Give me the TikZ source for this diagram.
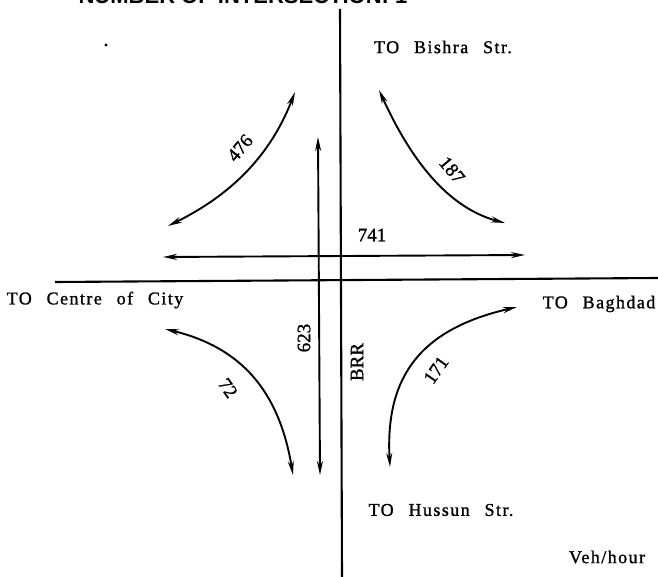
\documentclass[tikz,border=0pt]{standalone}
\usepackage{fontspec}
\setmainfont[FakeBold=1.2]{Liberation Serif}
\newfontfamily\titlefont{Liberation Sans}
\newfontfamily\spacedfont[LetterSpace=8,WordSpace=2.5,FakeBold=1.2]{Liberation Serif}
\usetikzlibrary{arrows.meta}

\begin{document}
\begin{tikzpicture}[x=1pt,y=-1pt,
  road/.style={line width=2.1pt},
  flow/.style={line width=1.9pt,{Stealth[length=14pt,width=6pt]}-{Stealth[length=14pt,width=6pt]}},
  place/.style={font=\spacedfont\fontsize{18}{20}\selectfont, inner sep=0pt},
  volume/.style={font=\fontsize{19}{21}\selectfont, inner sep=0pt}]
\useasboundingbox (0,0) rectangle (658,577);
\clip (0,0) rectangle (658,577);

\node[font=\titlefont\bfseries\fontsize{22}{24}\selectfont, anchor=base] (title) at (243,4)
{NUMBER OF INTERSECTION: 1};

\coordinate (n) at (340,9);
\coordinate (s) at (342,577);
\coordinate (w) at (55,282);
\coordinate (e) at (658,278);
\draw[road] (n) -- (s);
\draw[road] (w) -- (e);

\coordinate (ew-w) at (163,257);
\coordinate (ew-e) at (525,255);
\coordinate (ns-n) at (318,137);
\coordinate (ns-s) at (320,475);
\coordinate (nw-w) at (168,226);
\coordinate (nw-n) at (295,92);
\coordinate (ne-n) at (379,90);
\coordinate (ne-e) at (505,223);
\coordinate (sw-w) at (165,329);
\coordinate (sw-s) at (293,475);
\coordinate (se-s) at (390,467);
\coordinate (se-e) at (517,307);

\draw[flow] (ew-w) -- (ew-e);
\draw[flow] (ns-n) -- (ns-s);
\draw[flow] (nw-w) .. controls (233,194) and (271,154) .. (nw-n);
\draw[flow] (ne-n) .. controls (415,169) and (453,209) .. (ne-e);
\draw[flow] (sw-w) .. controls (240,347) and (279,390) .. (sw-s);
\draw[flow] (se-s) .. controls (385,376) and (421,329) .. (se-e);

\node[volume] (v741) at (372,235) {741};
\node[volume, rotate=90] (v623) at (304,338) {623};
\node[volume, rotate=90] (brr) at (357,362) {BRR};
\node[volume, rotate=50] (v476) at (240,148) {476};
\node[volume, rotate=-50] (v187) at (452,170) {187};
\node[volume, rotate=-55] (v72) at (228,388) {72};
\node[volume, rotate=55] (v171) at (436,370) {171};

\node[place] (bishra) at (443,47) {TO Bishra Str.};
\node[place] (centre) at (95,300) {TO Centre of City};
\node[place] (baghdad) at (599,304) {TO Baghdad};
\node[place] (hussun) at (441,510) {TO Hussun Str.};
\node[place] (unit) at (607,557) {Veh/hour};

\fill (106,45) circle (1.6);
\end{tikzpicture}
\end{document}
